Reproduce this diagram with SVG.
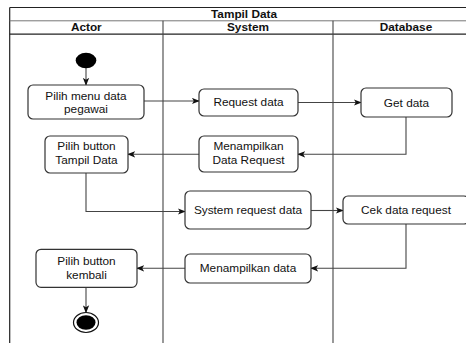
<svg xmlns="http://www.w3.org/2000/svg" width="466" height="343" viewBox="0 0 466 343">
<style>
.frame{fill:none;stroke:#222;stroke-width:1.2}
.lane{fill:none;stroke:#444;stroke-width:1.1}
.box{fill:#fff;stroke:#333;stroke-width:1.2}
.t{font-family:"Liberation Sans",Arial,sans-serif;font-size:11.8px;fill:#111;text-anchor:middle}
.h{font-family:"Liberation Sans",Arial,sans-serif;font-size:11.8px;font-weight:bold;fill:#111;text-anchor:middle}
.c{fill:none;stroke:#444;stroke-width:1.1;marker-end:url(#arr)}
</style>
<defs>
<marker id="arr" viewBox="0 0 10 8" refX="9" refY="4" markerWidth="8" markerHeight="7" markerUnits="userSpaceOnUse" orient="auto">
<path d="M0,0 L10,4 L0,8 L2.5,4 z" fill="#111"/>
</marker>
</defs>
<rect width="466" height="343" fill="#fff"/>
<g id="pool">
<line class="frame" x1="9.7" y1="7.5" x2="479" y2="7.5"/>
<line class="frame" x1="9.7" y1="7.5" x2="9.7" y2="343"/>
<line x1="9.7" y1="20.8" x2="479" y2="20.8" stroke="#777" stroke-width="1"/>
<line class="frame" x1="9.7" y1="34.2" x2="479" y2="34.2"/>
<line class="lane" x1="163" y1="20.8" x2="163" y2="343"/>
<line class="lane" x1="333" y1="20.8" x2="333" y2="343"/>
<text class="h" x="244" y="18">Tampil Data</text>
<text class="h" x="86.3" y="31">Actor</text>
<text class="h" x="248" y="31">System</text>
<text class="h" x="406" y="31">Database</text>
</g>
<g id="connectors">
<line class="c" x1="86" y1="68" x2="86" y2="85"/>
<line class="c" x1="144" y1="101" x2="199" y2="101"/>
<line class="c" x1="298" y1="102.5" x2="361" y2="102.5"/>
<polyline class="c" points="406,117 406,154.3 298,154.3"/>
<line class="c" x1="199" y1="154.3" x2="128" y2="154.3"/>
<polyline class="c" points="86,173 86,211.5 185,211.5"/>
<line class="c" x1="311" y1="210.5" x2="343" y2="210.5"/>
<polyline class="c" points="406,224 406,268.3 311,268.3"/>
<line class="c" x1="185" y1="268.3" x2="137" y2="268.3"/>
<line class="c" x1="86" y1="287.3" x2="86" y2="312.5"/>
</g>
<g id="start">
<ellipse cx="86" cy="60.5" rx="10.3" ry="7.8" fill="#000"/>
</g>
<g id="n1">
<rect class="box" x="28" y="85" width="116" height="34" rx="5"/>
<text class="t" x="86" y="100">Pilih menu data</text>
<text class="t" x="86" y="113">pegawai</text>
</g>
<g id="n2">
<rect class="box" x="199" y="89" width="99" height="27" rx="5"/>
<text class="t" x="248.5" y="106">Request data</text>
</g>
<g id="n3">
<rect class="box" x="361" y="88" width="91" height="29" rx="5"/>
<text class="t" x="406.5" y="106.5">Get data</text>
</g>
<g id="n4">
<rect class="box" x="199" y="136" width="99" height="36" rx="5"/>
<text class="t" x="248.5" y="150">Menampilkan</text>
<text class="t" x="248.5" y="163.5">Data Request</text>
</g>
<g id="n5">
<rect class="box" x="45" y="136" width="83" height="37" rx="5"/>
<text class="t" x="86.5" y="150">Pilih button</text>
<text class="t" x="86.5" y="163.5">Tampil Data</text>
</g>
<g id="n6">
<rect class="box" x="185" y="191" width="126" height="38" rx="5"/>
<text class="t" x="248" y="214">System request data</text>
</g>
<g id="n7">
<rect class="box" x="343" y="196" width="126" height="28" rx="5"/>
<text class="t" x="406" y="213.5">Cek data request</text>
</g>
<g id="n8">
<rect class="box" x="185" y="254" width="126" height="29" rx="5"/>
<text class="t" x="248" y="272">Menampilkan data</text>
</g>
<g id="n9">
<rect class="box" x="36" y="249.3" width="101" height="38" rx="5"/>
<text class="t" x="86.5" y="265">Pilih button</text>
<text class="t" x="86.5" y="279">kembali</text>
</g>
<g id="end">
<ellipse cx="86" cy="322.5" rx="12.5" ry="10" fill="#fff" stroke="#111" stroke-width="1.2"/>
<ellipse cx="86" cy="322.5" rx="9.5" ry="7.3" fill="#000"/>
</g>
</svg>
